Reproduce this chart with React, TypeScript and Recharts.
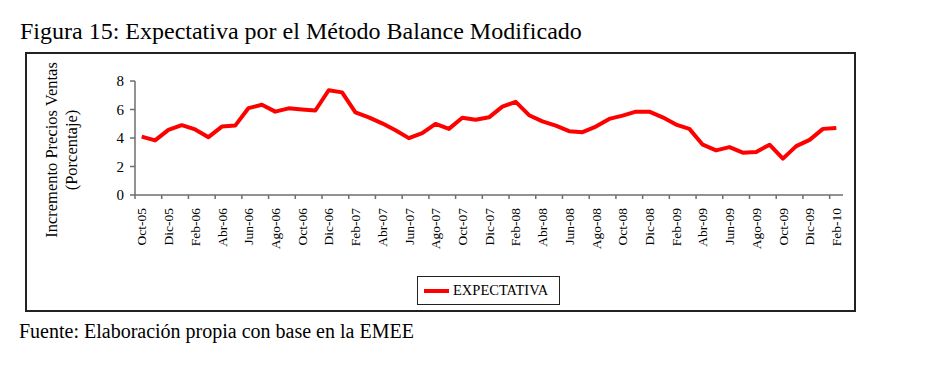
import React from 'react';
import { LineChart, Line, XAxis, YAxis } from 'recharts';

const months = [
  'Oct-05', 'Nov-05', 'Dic-05',
  'Ene-06', 'Feb-06', 'Mar-06', 'Abr-06', 'May-06', 'Jun-06', 'Jul-06', 'Ago-06', 'Sep-06', 'Oct-06', 'Nov-06', 'Dic-06',
  'Ene-07', 'Feb-07', 'Mar-07', 'Abr-07', 'May-07', 'Jun-07', 'Jul-07', 'Ago-07', 'Sep-07', 'Oct-07', 'Nov-07', 'Dic-07',
  'Ene-08', 'Feb-08', 'Mar-08', 'Abr-08', 'May-08', 'Jun-08', 'Jul-08', 'Ago-08', 'Sep-08', 'Oct-08', 'Nov-08', 'Dic-08',
  'Ene-09', 'Feb-09', 'Mar-09', 'Abr-09', 'May-09', 'Jun-09', 'Jul-09', 'Ago-09', 'Sep-09', 'Oct-09', 'Nov-09', 'Dic-09',
  'Ene-10', 'Feb-10',
];

const expectativa = [
  4.1, 3.83, 4.57,
  4.9, 4.6, 4.06, 4.8, 4.87, 6.1, 6.33, 5.85, 6.08, 6.0, 5.93, 7.35,
  7.2, 5.8, 5.45, 5.03, 4.55, 3.99, 4.34, 4.99, 4.64, 5.42, 5.28, 5.45,
  6.2, 6.54, 5.6, 5.17, 4.87, 4.48, 4.41, 4.8, 5.34, 5.57, 5.85, 5.85,
  5.45, 4.94, 4.64, 3.53, 3.13, 3.36, 2.97, 3.02, 3.53, 2.55, 3.43, 3.87,
  4.64, 4.71,
];

const yTicks = [0, 2, 4, 6, 8];
const seriesName = 'EXPECTATIVA';
const title = 'Figura 15: Expectativa por el Método Balance Modificado';
const source = 'Fuente: Elaboración propia con base en la EMEE';
const yLabel = ['Incremento Precios Ventas', '(Porcentaje)'];

const data = months.map((mes, i) => ({ mes, valor: expectativa[i] }));

const AXIS = '#6e6e6e';
const FONT = '"Liberation Serif", "Times New Roman", serif';

// tick mark sits on the band boundary, label in the middle of the band
const XTick = (props: any) => {
  const { x, y, payload } = props;
  const off = payload && payload.offset != null ? payload.offset : 6.7;
  return (
    <g>
      <line x1={x - off} x2={x - off} y1={y - 4} y2={y} stroke={AXIS} strokeWidth={1.5} />
      <text
        x={x}
        y={y + 9}
        transform={`rotate(-90 ${x} ${y + 9})`}
        textAnchor="end"
        dy="0.35em"
        fontSize={13.5}
        fontFamily={FONT}
        fill="#000"
      >
        {payload.value}
      </text>
    </g>
  );
};

const YTitle = (props: any) => {
  const { viewBox } = props;
  const cy = viewBox.y + viewBox.height / 2 + 12;
  const x1 = viewBox.x - 48;
  const x2 = viewBox.x - 28;
  return (
    <g fontSize={16.5} fill="#000" fontFamily={FONT}>
      <text x={x1} y={cy} transform={`rotate(-90 ${x1} ${cy})`} textAnchor="middle">{yLabel[0]}</text>
      <text x={x2} y={cy} transform={`rotate(-90 ${x2} ${cy})`} textAnchor="middle">{yLabel[1]}</text>
    </g>
  );
};

export default function App() {
  return (
    <div style={{ position: 'absolute', left: 0, top: 0, width: 937, height: 365, background: '#fff', fontFamily: FONT }}>
      <div style={{ position: 'absolute', left: 20, top: 16, fontSize: 24, lineHeight: '30px', whiteSpace: 'nowrap' }}>{title}</div>
      <div style={{ position: 'absolute', left: 25, top: 52, width: 827, height: 256, border: '2px solid #222' }} />
      <LineChart
        width={937}
        height={365}
        data={data}
        margin={{ top: 81, right: 94, bottom: 110, left: 105 }}
        style={{ position: 'absolute', left: 0, top: 0, fontFamily: FONT }}
      >
        <XAxis
          dataKey="mes"
          scale="band"
          interval={1}
          height={60}
          tickLine={false}
          tickSize={4}
          tickMargin={0}
          axisLine={{ stroke: AXIS, strokeWidth: 1.5 }}
          tick={<XTick />}
        />
        <YAxis
          width={30}
          domain={[0, 8]}
          ticks={yTicks}
          tickSize={5}
          tickMargin={6}
          axisLine={{ stroke: AXIS, strokeWidth: 1.5 }}
          tickLine={{ stroke: AXIS, strokeWidth: 1.5 }}
          tick={{ fill: '#000', fontSize: 15, fontFamily: FONT }}
          label={<YTitle />}
        />
        <Line
          type="linear"
          dataKey="valor"
          name={seriesName}
          stroke="#ff0000"
          strokeWidth={4}
          strokeLinejoin="round"
          dot={false}
          activeDot={false}
          isAnimationActive={false}
        />
      </LineChart>
      <div
        style={{
          position: 'absolute', left: 417, top: 276, width: 141, height: 27,
          border: '1px solid #222', display: 'flex', alignItems: 'center', background: '#fff',
        }}
      >
        <span style={{ display: 'inline-block', width: 25, height: 4, background: '#ff0000', marginLeft: 6, marginRight: 4 }} />
        <span style={{ fontSize: 14.5 }}>{seriesName}</span>
      </div>
      <div style={{ position: 'absolute', left: 19, top: 319, fontSize: 20, lineHeight: '24px', whiteSpace: 'nowrap' }}>{source}</div>
    </div>
  );
}
